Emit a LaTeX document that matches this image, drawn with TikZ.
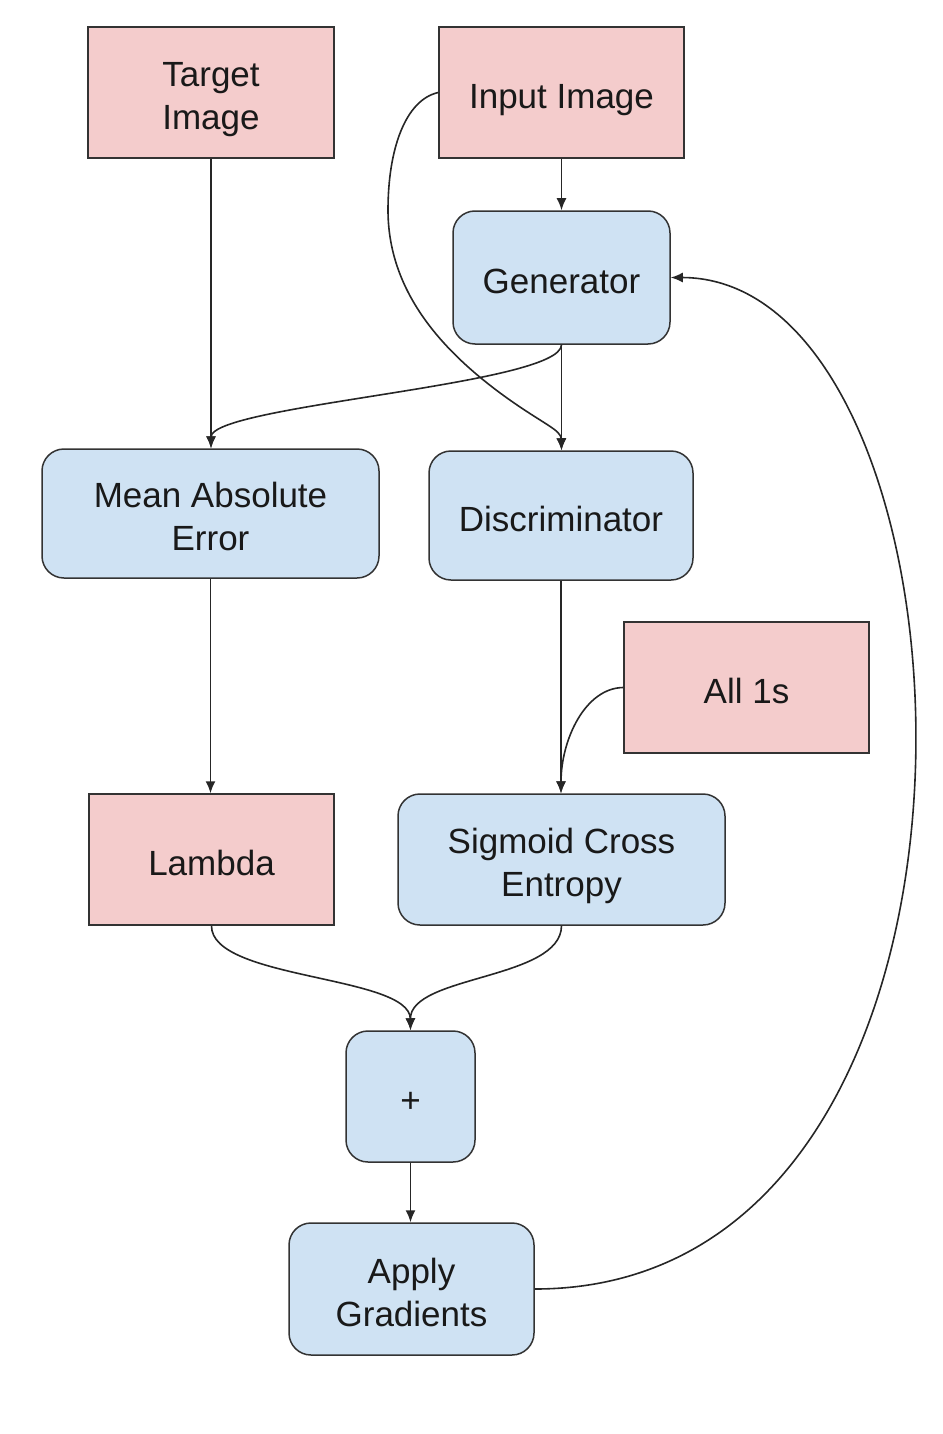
\documentclass[tikz,border=0pt]{standalone}
\usepackage{fontspec}
\setmainfont{Liberation Sans}
\usetikzlibrary{arrows.meta}
\definecolor{pinkfill}{HTML}{F4CCCC}
\definecolor{bluefill}{HTML}{CFE2F3}
\definecolor{edgegray}{HTML}{333333}
\newcommand\boxtxt[1]{\raisebox{-7pt}[\height][\depth]{\begin{tabular}{@{}c@{}}#1\end{tabular}}}
\begin{document}
\begin{tikzpicture}[x=1pt,y=-1pt,
  box/.style={draw=edgegray, line width=1.5pt, inner sep=0pt, align=center,
    font=\fontsize{35}{43}\selectfont, text=black!90},
  pinkbox/.style={box, fill=pinkfill},
  bluebox/.style={box, fill=bluefill, rounded corners=22pt},
  conn/.style={draw=black!85, line width=1.6pt, -{Latex[length=12pt,width=10pt]}}]
\useasboundingbox (0,0) rectangle (942,1434);

\node[pinkbox, minimum width=246pt, minimum height=131pt] (target) at (211,92.5) {\boxtxt{Target\\Image}};
\node[pinkbox, minimum width=245pt, minimum height=131pt] (input) at (561.5,92.5) {\boxtxt{Input Image}};
\node[bluebox, minimum width=217pt, minimum height=133pt] (gen) at (561.5,277.5) {\boxtxt{Generator}};
\node[bluebox, minimum width=337pt, minimum height=129pt] (mae) at (210.5,513.5) {\boxtxt{Mean Absolute\\Error}};
\node[bluebox, minimum width=264pt, minimum height=129pt] (disc) at (561,515.5) {\boxtxt{Discriminator}};
\node[pinkbox, minimum width=245pt, minimum height=131pt] (ones) at (746.5,687.5) {\boxtxt{All 1s}};
\node[pinkbox, minimum width=245pt, minimum height=131pt] (lambda) at (211.5,859.5) {\boxtxt{Lambda}};
\node[bluebox, minimum width=327pt, minimum height=131pt] (sce) at (561.5,859.5) {\boxtxt{Sigmoid Cross\\Entropy}};
\node[bluebox, minimum width=129pt, minimum height=131pt] (plus) at (410.5,1096.5) {\boxtxt{+}};
\node[bluebox, minimum width=245pt, minimum height=132pt] (apply) at (411.5,1289) {\boxtxt{Apply\\Gradients}};

\draw[conn] (target.south) -- (target.south |- mae.north);
\draw[conn] (input.south) -- (gen.north);
\draw[conn] (gen.south) -- (gen.south |- disc.north);
\draw[conn] (input.west) .. controls (405,100) and (388,150) .. (388,210)
   .. controls (388,290) and (440,350) .. (507,398)
   .. controls (545,425) and (561,430) .. (gen.south |- disc.north);
\draw[conn] (gen.south) .. controls (561,385) and (211,405) .. (target.south |- mae.north);
\draw[conn] (mae.south) -- (mae.south |- lambda.north);
\draw[conn] (disc.south) -- (disc.south |- sce.north);
\draw[conn] (ones.west) .. controls (585,688) and (561,740) .. (disc.south |- sce.north);
\draw[conn] (lambda.south) .. controls (211,980) and (410,975) .. (plus.north);
\draw[conn] (sce.south) .. controls (561,980) and (410,975) .. (plus.north);
\draw[conn] (plus.south) -- (plus.south |- apply.north);
\draw[conn] (apply.east) .. controls (1042,1289) and (992,278) .. (gen.east);
\end{tikzpicture}
\end{document}
